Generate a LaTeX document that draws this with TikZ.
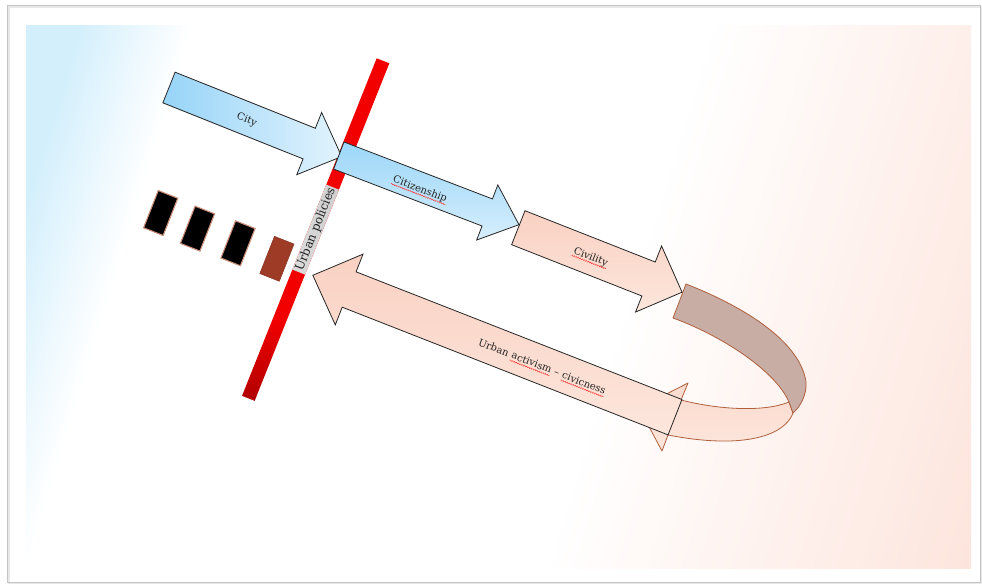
\documentclass[tikz,border=0pt]{standalone}
\usepackage{fontspec}
\setmainfont{DejaVu Serif}
\usetikzlibrary{calc,decorations.pathmorphing}

\definecolor{bgblue}{HTML}{D3EFFC}
\definecolor{bgpink}{HTML}{FDE5DD}
\definecolor{cityA}{HTML}{96D4F8}
\definecolor{cityB}{HTML}{E2F3FD}
\definecolor{citA}{HTML}{9CD7F8}
\definecolor{citB}{HTML}{D6EEFD}
\definecolor{peachA}{HTML}{F9D1C2}
\definecolor{peachB}{HTML}{FDE6DC}
\definecolor{ribbonDark}{HTML}{C8ADA5}
\definecolor{ribbonEdge}{HTML}{B0603C}
\definecolor{barRed}{HTML}{F20000}
\definecolor{barDark}{HTML}{B00000}
\definecolor{policyGray}{HTML}{CFCFCF}
\definecolor{brickBrown}{HTML}{9E3B26}
\definecolor{brickHalo}{HTML}{C98F78}
\definecolor{frameGray}{HTML}{C4C4C4}
\definecolor{ink}{HTML}{222222}

% slide background: blue on the left, white middle, pink on the right
\pgfdeclarehorizontalshading{slidebg}{100bp}{color(0bp)=(bgblue); color(30bp)=(bgblue); color(34.5bp)=(white); color(55bp)=(white); color(72bp)=(bgpink); color(100bp)=(bgpink)}
% red bar, darker at its lower end
\pgfdeclareverticalshading{barshade}{100bp}{color(0bp)=(barDark); color(25bp)=(barDark); color(37bp)=(barRed); color(100bp)=(barRed)}

% block arrow: style, tail centre, angle, length, half shaft, head length, half head
\newcommand\blockarrow[7]{%
  \begin{scope}[shift={#2}, rotate=#3]
    \path[#1] (0,-#5) -- ({#4-#6},-#5) -- ({#4-#6},-#7) -- (#4,0) -- ({#4-#6},#7) -- ({#4-#6},#5) -- (0,#5) -- cycle;
  \end{scope}}

% small tilted block
\newcommand\brick[2]{%
  \begin{scope}[shift={#2}, rotate=-21.5]
    \path[#1] (-10.5,-20) rectangle (10.5,20);
  \end{scope}}

\tikzset{
  arrowline/.style={draw=black!85, line width=0.8pt, line join=miter},
  ribbonline/.style={draw=ribbonEdge, line width=0.8pt, line join=round},
  lbl/.style={font=\fontsize{10}{12}\selectfont, text=ink, inner sep=0.5pt},
  wordlbl/.style={lbl, inner sep=0pt, text height=0.73em, text depth=0.23em},
  squig/.style={draw=red!80, line width=0.45pt, decorate,
    decoration={snake, amplitude=0.55pt, segment length=2.2pt}},
}

\newcommand\squigunder[1]{%
  \draw[squig] ($(#1.base west)!2.4pt!-90:(#1.base east)$) -- ($(#1.base east)!2.4pt!90:(#1.base west)$);}
\newcommand\wgap{\kern0.32em}

\begin{document}
\begin{tikzpicture}[x=1pt, y=-1pt]
\useasboundingbox (0,0) rectangle (982,584);
\fill[white] (0,0) rectangle (982,584);

% slide frame
\draw[gray!18, line width=2pt] (8.5,6.5) rectangle (981,583);
\draw[frameGray, line width=1pt] (7,5) rectangle (980,582);

% background gradient
\begin{scope}
  \clip (26,25) rectangle (971,568);
  \shade[shading=slidebg, transform canvas={rotate around={-17:(498.5,296.5)}}]
    (-101.5,-303.5) rectangle (1098.5,896.5);
\end{scope}

% urban policies bar
\begin{scope}[shift={(383,60.8)}, rotate=-111.75]
  \path[shading=barshade] (0,-6.8) rectangle (363.4,6.8);
  \path[left color=policyGray!75, right color=policyGray] (136,-6.8) rectangle (227.5,6.8);
\end{scope}
\node[font=\fontsize{12}{13}\selectfont, text=ink, inner sep=0pt, rotate=68.25] (policies) at (315.7,229.4) {Urban policies};

% blocks in front of the bar
\brick{fill=black, draw=brickHalo, line width=1.1pt}{(160.7,213)}
\brick{fill=black, draw=brickHalo, line width=1.1pt}{(197.5,228.6)}
\brick{fill=black, draw=brickHalo, line width=1.1pt}{(238,243.3)}
\brick{fill=brickBrown, draw=brickBrown!85!black, line width=0.5pt}{(276.9,258.8)}

% upper arrows
\blockarrow{arrowline, left color=cityA, right color=cityB}{(169,87.5)}{-21.8}{186}{16.5}{35}{33.5}
\blockarrow{arrowline, top color=citA, bottom color=citB}{(338.8,155.5)}{-21}{193}{14.5}{34}{29.5}

% curved ribbon turning back
\path[ribbonline, top color=peachA!80, bottom color=peachB]
  (688,383) -- (639,408) -- (662,451) -- (668,435)
  .. controls (745,450) and (785,435) .. (793,413) -- (789,402)
  .. controls (765,412) and (720,410) .. (681,400) -- cycle;
\path[ribbonline, fill=ribbonDark]
  (686,284) .. controls (740,305) and (800,340) .. (806,382)
  .. controls (807,395) and (800,407) .. (793,413) -- (789,402)
  .. controls (775,370) and (720,335) .. (673,318) -- cycle;

\blockarrow{arrowline, top color=peachA, bottom color=peachB}{(518.3,227.7)}{-21.5}{176}{18.25}{36}{35.5}
\blockarrow{arrowline, top color=peachA, bottom color=peachB}{(675,417.2)}{158.6}{389}{19}{39}{38}

% labels
\node[lbl, rotate=-21.8] (cityL) at (246.7,120) {City};
\node[lbl, rotate=-21] (citL) at (420,189.3) {Citizenship};
\node[lbl, rotate=-21.5] (civL) at (590.7,257.3) {Civility};
\node[wordlbl, rotate=-21.4] (uaDash) at (556.7,373.3) {\wgap--\wgap};
\node[wordlbl, rotate=-21.4, anchor=base east] (uaAct) at (uaDash.base west) {activism};
\node[wordlbl, rotate=-21.4, anchor=base east] (uaUrb) at (uaAct.base west) {Urban\wgap};
\node[wordlbl, rotate=-21.4, anchor=base west] (uaCiv) at (uaDash.base east) {civicness};

\squigunder{citL}
\squigunder{civL}
\squigunder{uaAct}
\squigunder{uaCiv}
\end{tikzpicture}
\end{document}
